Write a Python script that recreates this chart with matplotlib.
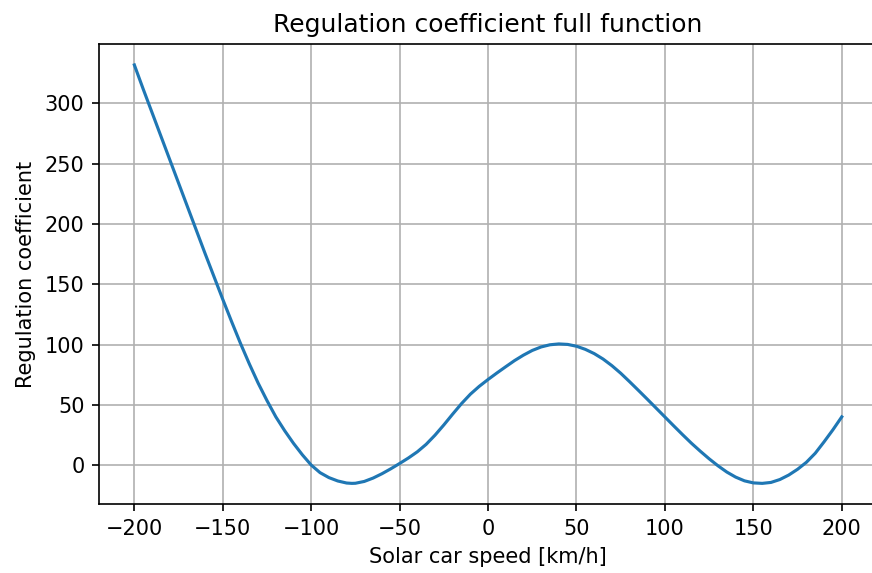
import matplotlib
matplotlib.use("Agg")
import matplotlib.pyplot as plt

# speed [km/h] vs regulation coefficient
speed = [-200, -195, -190, -185, -180, -175, -170, -165, -160, -155,
         -150, -145, -140, -135, -130, -125, -120, -115, -110, -105,
         -100, -95, -90, -85, -80, -77, -75, -70, -65, -60,
         -55, -50, -45, -40, -35, -30, -25, -20, -15, -10,
         -5, 0, 5, 10, 15, 20, 25, 30, 35, 40,
         45, 50, 55, 60, 65, 70, 75, 80, 85, 90,
         95, 100, 105, 110, 115, 120, 125, 130, 135, 140,
         145, 150, 155, 160, 165, 170, 175, 180, 185, 190,
         195, 200]
coef = [332, 312, 292.5, 273, 253.5, 234, 214.5, 195, 175.5, 156.5,
        137.5, 119, 101, 84, 68, 53.5, 40, 28.5, 18, 8.5,
        0, -6.3, -10.4, -13.2, -14.9, -15.2, -15.1, -13.6, -10.8, -7.2,
        -3.1, 1.3, 5.9, 11, 17.2, 24.8, 33.3, 42.3, 51, 58.8,
        65.3, 71, 76.4, 81.6, 86.7, 91.2, 95.1, 98, 99.8, 100.5,
        100.1, 98.6, 96, 92.5, 88, 82.5, 76.2, 69.2, 62, 54.7,
        47.3, 39.9, 32.5, 25.2, 18.1, 11.5, 5.2, -0.6, -5.8, -10,
        -13.1, -14.8, -15.2, -14.4, -12, -8.3, -3.5, 2.3, 9.8, 19.3,
        29.3, 40]

fig = plt.figure(figsize=(872 / 150, 573 / 150), dpi=150)
ax = fig.add_axes([0.1135, 0.1199, 0.8924, 0.8033])
ax.plot(speed, coef)
ax.set_title("Regulation coefficient full function")
ax.set_xlabel("Solar car speed [km/h]")
ax.set_ylabel("Regulation coefficient")
ax.grid(True)
fig.savefig("out.png", dpi=150)
